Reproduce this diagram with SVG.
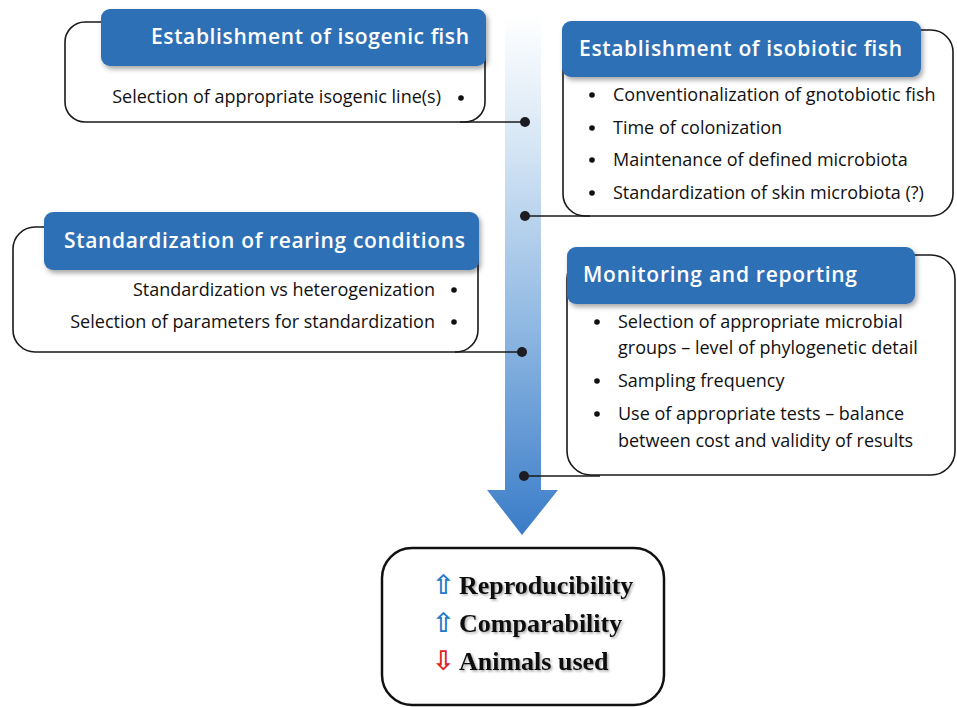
<svg xmlns="http://www.w3.org/2000/svg" width="957" height="707" viewBox="0 0 957 707">
<defs>
<linearGradient id="shaftGrad" x1="0" y1="15" x2="0" y2="535" gradientUnits="userSpaceOnUse">
<stop offset="0" stop-color="#ffffff"/>
<stop offset="0.25" stop-color="#d6e6f5"/>
<stop offset="0.6" stop-color="#8fb8e2"/>
<stop offset="1" stop-color="#3a7cc8"/>
</linearGradient>
<filter id="shadow" x="-10%" y="-20%" width="120%" height="150%">
<feDropShadow dx="2" dy="3" stdDeviation="2.5" flood-color="#000" flood-opacity="0.35"/>
</filter>
<filter id="tshadow" x="-5%" y="-20%" width="110%" height="150%">
<feDropShadow dx="1.5" dy="1.5" stdDeviation="0.8" flood-color="#000" flood-opacity="0.35"/>
</filter>
</defs>
<style>
.outline{fill:#fff;stroke:#1a1a1a;stroke-width:1.6}
.header{fill:#2f6fb6}
.title{font-family:"Open Sans","Liberation Sans",sans-serif;font-size:21px;fill:#fff;font-weight:600}
.item{font-family:"Open Sans","Liberation Sans",sans-serif;font-size:18px;fill:#111}
.bullet{fill:#111}
.conn{stroke:#1a1a1a;stroke-width:1.6;fill:none}
.dot{fill:#1c1c22}
.res{font-family:"Liberation Serif",serif;font-weight:bold;font-size:26px;fill:#111}
.sym{font-family:"DejaVu Sans",sans-serif;font-size:27px;font-weight:bold}
</style>
<rect width="957" height="707" fill="#fff"/>

<g id="flow-arrow">
<path d="M505 15 H541 V490 H558 L522 535 L487 490 H505 Z" fill="url(#shaftGrad)"/>
</g>

<g id="node-isogenic">
<rect class="outline" x="65" y="22" width="420" height="100" rx="20"/>
<rect class="header" x="101" y="9" width="385" height="57" rx="9" filter="url(#shadow)"/>
<text class="title" x="151" y="44" textLength="318">Establishment of isogenic fish</text>
<text class="item" x="441" y="103" text-anchor="end">Selection of appropriate isogenic line(s)</text>
<circle class="bullet" cx="461" cy="98" r="2.8"/>
</g>

<g id="node-isobiotic">
<rect class="outline" x="563" y="30" width="390" height="186" rx="22"/>
<rect class="header" x="562" y="21" width="359" height="56" rx="9" filter="url(#shadow)"/>
<text class="title" x="579" y="56" textLength="323">Establishment of isobiotic fish</text>
<circle class="bullet" cx="592" cy="95" r="2.8"/>
<text class="item" x="613" y="101">Conventionalization of gnotobiotic fish</text>
<circle class="bullet" cx="592" cy="128" r="2.8"/>
<text class="item" x="613" y="134">Time of colonization</text>
<circle class="bullet" cx="592" cy="160" r="2.8"/>
<text class="item" x="613" y="166">Maintenance of defined microbiota</text>
<circle class="bullet" cx="592" cy="193" r="2.8"/>
<text class="item" x="613" y="199">Standardization of skin microbiota (?)</text>
</g>

<g id="node-rearing">
<rect class="outline" x="13" y="227" width="465" height="125" rx="22"/>
<rect class="header" x="44" y="212" width="435" height="58" rx="9" filter="url(#shadow)"/>
<text class="title" x="64" y="248" textLength="401">Standardization of rearing conditions</text>
<text class="item" x="435" y="296" text-anchor="end">Standardization vs heterogenization</text>
<circle class="bullet" cx="454" cy="290" r="2.8"/>
<text class="item" x="435" y="328" text-anchor="end">Selection of parameters for standardization</text>
<circle class="bullet" cx="454" cy="322" r="2.8"/>
</g>

<g id="node-monitoring">
<rect class="outline" x="567" y="255" width="388" height="220" rx="24"/>
<rect class="header" x="567" y="247" width="348" height="57" rx="9" filter="url(#shadow)"/>
<text class="title" x="583" y="282" textLength="274">Monitoring and reporting</text>
<circle class="bullet" cx="597" cy="322" r="2.8"/>
<text class="item" x="618" y="328">Selection of appropriate microbial</text>
<text class="item" x="618" y="354">groups – level of phylogenetic detail</text>
<circle class="bullet" cx="597" cy="381" r="2.8"/>
<text class="item" x="618" y="387">Sampling frequency</text>
<circle class="bullet" cx="597" cy="414" r="2.8"/>
<text class="item" x="618" y="420">Use of appropriate tests – balance</text>
<text class="item" x="618" y="447">between cost and validity of results</text>
</g>

<g id="connectors">
<path class="conn" d="M460 122 H525"/>
<circle class="dot" cx="525" cy="122" r="5"/>
<path class="conn" d="M525 216 H590"/>
<circle class="dot" cx="525" cy="216" r="5"/>
<path class="conn" d="M455 352 H522"/>
<circle class="dot" cx="522" cy="352" r="5"/>
<path class="conn" d="M524 476 H600"/>
<circle class="dot" cx="524" cy="476" r="5"/>
</g>

<g id="node-result">
<rect x="382" y="548" width="282" height="157" rx="30" fill="#fff" stroke="#111" stroke-width="2.5"/>
<text class="sym" x="432" y="594" fill="#1f7ac8">⇧</text>
<text class="res" x="459" y="594" filter="url(#tshadow)">Reproducibility</text>
<text class="sym" x="432" y="632" fill="#1f7ac8">⇧</text>
<text class="res" x="459" y="632" filter="url(#tshadow)">Comparability</text>
<text class="sym" x="432" y="670" fill="#e02424">⇩</text>
<text class="res" x="459" y="670" filter="url(#tshadow)">Animals used</text>
</g>
</svg>
